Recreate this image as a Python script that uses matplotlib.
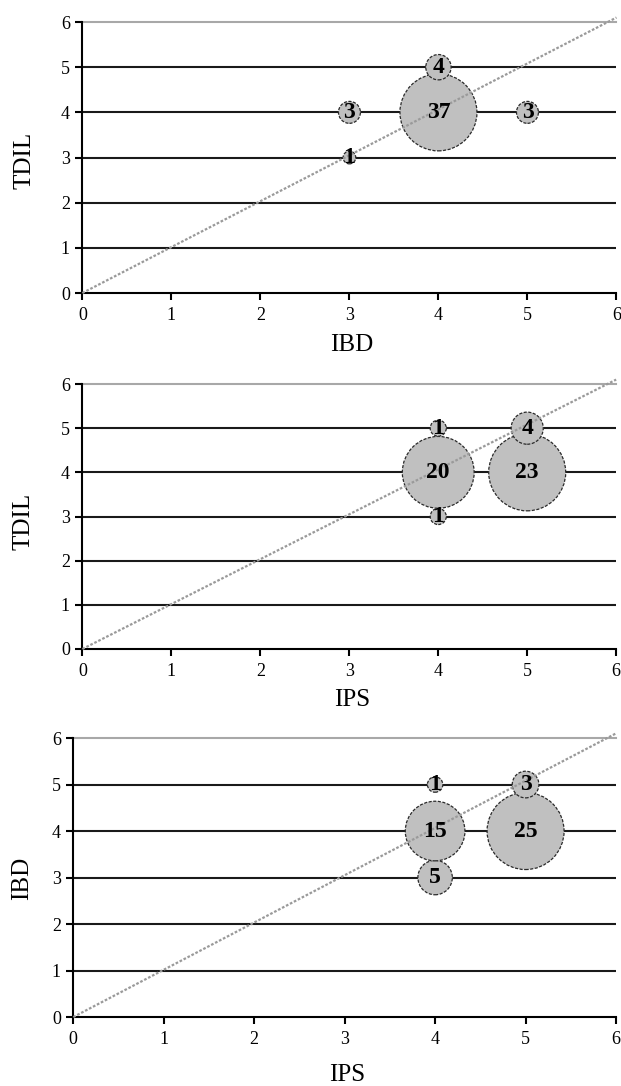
import matplotlib
matplotlib.use('Agg')
import matplotlib.pyplot as plt

plt.rcParams['font.family'] = ['Liberation Serif', 'DejaVu Serif']

# bubble data: (x, y, count) for each of the three comparisons
ibd_tdil_x = [3, 3, 4, 4, 5]
ibd_tdil_y = [3, 4, 4, 5, 4]
ibd_tdil_n = [1, 3, 37, 4, 3]

ips_tdil_x = [4, 4, 4, 5, 5]
ips_tdil_y = [3, 4, 5, 4, 5]
ips_tdil_n = [1, 20, 1, 23, 4]

ips_ibd_x = [4, 4, 4, 5, 5]
ips_ibd_y = [3, 4, 5, 4, 5]
ips_ibd_n = [5, 15, 1, 25, 3]

x_labels = ['IBD', 'IPS', 'IPS']
y_labels = ['TDIL', 'TDIL', 'IBD']

ticks = [0, 1, 2, 3, 4, 5, 6]
diag_x = [0, 6]
diag_y = [0, 6.1]

panels = [
    (ibd_tdil_x, ibd_tdil_y, ibd_tdil_n),
    (ips_tdil_x, ips_tdil_y, ips_tdil_n),
    (ips_ibd_x, ips_ibd_y, ips_ibd_n),
]

# axes rectangles and label placement per panel
rects = [
    [0.1327, 0.7302, 0.8600, 0.2495],
    [0.1327, 0.4024, 0.8595, 0.2440],
    [0.1180, 0.0635, 0.8740, 0.2569],
]
xlab_pos = [(0.505, -0.192), (0.505, -0.192), (0.505, -0.208)]
ylab_pos = [(-0.1075, 0.49), (-0.111, 0.48), (-0.095, 0.498)]
max_diam_px = 77
dpi = 100

fig = plt.figure(figsize=(6.21, 10.86), dpi=dpi)

for i, (xs, ys, ns) in enumerate(panels):
    ax = fig.add_axes(rects[i])
    ax.set_xlim(0, 6)
    ax.set_ylim(0, 6)
    ax.set_xticks(ticks)
    ax.set_yticks(ticks)

    for yy in ticks[1:6]:
        ax.axhline(yy, color='#1a1a1a', lw=1.5, zorder=1)
    ax.axhline(6, color='#a8a8a8', lw=1.5, zorder=1, clip_on=False)

    ax.spines['top'].set_visible(False)
    ax.spines['right'].set_visible(False)
    ax.spines['left'].set_linewidth(1.5)
    ax.spines['bottom'].set_linewidth(1.5)
    ax.tick_params(direction='out', length=5, width=1.5, labelsize=13,
                   colors='black')
    ax.tick_params(axis='y', pad=4)
    ax.tick_params(axis='x', pad=5)

    # bubble area proportional to count
    vmax = max(ns)
    d_max_pt = max_diam_px * 72.0 / dpi
    sizes = [d_max_pt ** 2 * n / vmax for n in ns]
    ax.scatter(xs, ys, s=sizes, marker='o', facecolor='#c0c0c0',
               edgecolor='#2a2a2a', linewidths=0.9, linestyle=(0, (2.5, 1.2)),
               zorder=3, clip_on=False)

    ax.plot(diag_x, diag_y, color='#9a9a9a', lw=1.6, linestyle=(0, (1.2, 0.8)),
            zorder=4, clip_on=False)

    for x, y, n in zip(xs, ys, ns):
        ax.text(x, y, str(n), ha='center', va='center', fontsize=17,
                fontweight='bold', zorder=5)

    ax.set_xlabel(x_labels[i], fontsize=18)
    ax.set_ylabel(y_labels[i], fontsize=18)
    ax.xaxis.set_label_coords(*xlab_pos[i])
    ax.yaxis.set_label_coords(*ylab_pos[i])
    ax.xaxis.label.set_va('center')
    ax.yaxis.label.set_va('center')

fig.savefig('out.png', dpi=dpi)
